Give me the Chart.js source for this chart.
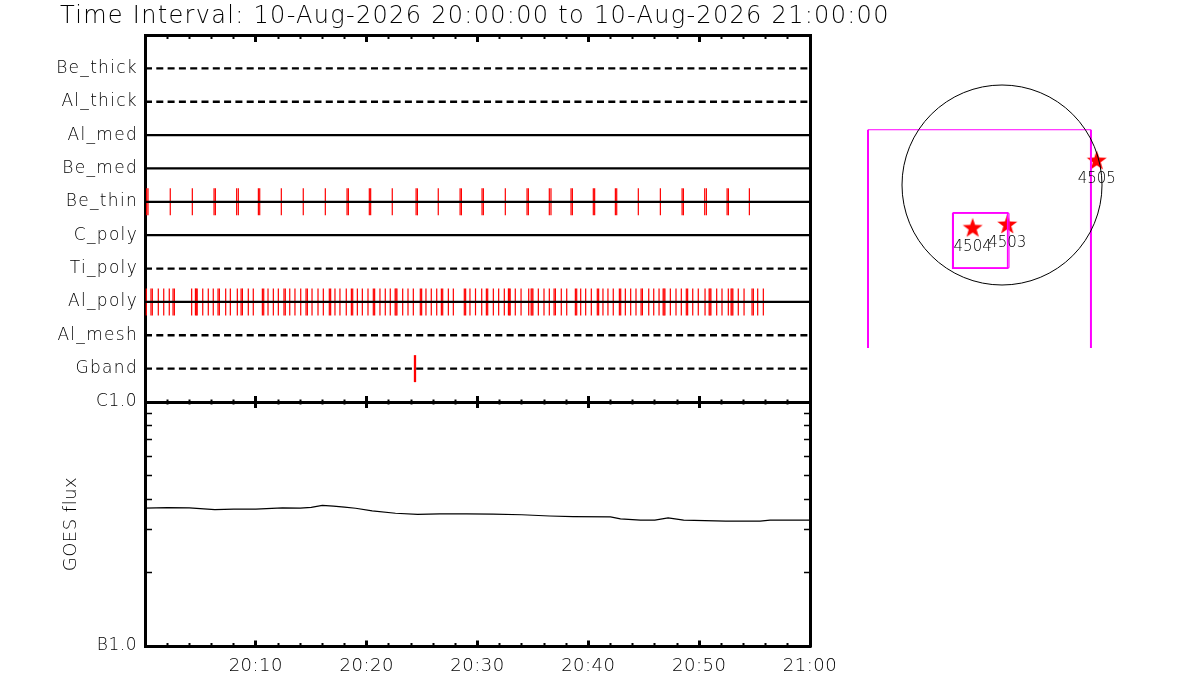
<!DOCTYPE html>
<html>
<head>
<meta charset="utf-8">
<script src="https://cdn.jsdelivr.net/npm/chart.js@4.4.1/dist/chart.umd.min.js"></script>
<style>
  html, body { margin:0; padding:0; background:#ffffff; }
  body { width:1200px; height:700px; position:relative; overflow:hidden; }
  .panel { position:absolute; }
  #panelRows { left:0; top:0; }
  #panelGoes { left:0; top:372px; }
  #panelMap { left:850px; top:40px; }
</style>
</head>
<body>
<div class="panel" id="panelRows"><canvas id="rowsCanvas" width="1000" height="430"></canvas></div>
<div class="panel" id="panelGoes"><canvas id="goesCanvas" width="860" height="328"></canvas></div>
<div class="panel" id="panelMap"><canvas id="mapCanvas" width="300" height="308"></canvas></div>
<script>
// ---------------- data ----------------
const intervalStart = '10-Aug-2026 20:00:00';
const intervalEnd = '10-Aug-2026 21:00:00';

const rowNames = ['Be_thick','Al_thick','Al_med','Be_med','Be_thin','C_poly','Ti_poly','Al_poly','Al_mesh','Gband'];
const rowObserved = [false, false, true, true, true, true, false, true, false, false];

// event times, minutes after 20:00
const beThinTimes = [0.15, 0.27, 2.28, 4.27, 6.23, 6.35, 8.27, 8.42, 10.23, 10.35, 12.30, 14.28, 16.27,
  18.23, 18.35, 20.24, 20.36, 22.31, 24.46, 24.58, 26.46, 28.43, 28.55, 30.41, 30.53, 32.51,
  34.47, 34.59, 36.48, 36.63, 38.44, 38.56, 40.45, 40.57, 42.44, 42.56, 44.51, 46.50,
  48.46, 48.58, 50.50, 50.65, 52.52, 52.64, 54.53];

const alPolyTimes = [0.12, 0.54, 0.66, 1.20, 1.69, 2.19, 2.53, 2.65, 4.21, 4.55, 4.63, 4.71, 5.21, 5.71,
  6.16, 6.59, 6.71, 7.28, 7.70, 8.33, 8.67, 8.79, 9.32, 9.77, 10.59, 10.71, 11.10, 11.58, 12.03,
  12.54, 12.66, 13.06, 13.53, 14.05, 14.53, 14.65, 15.07, 15.61, 16.09, 16.63, 16.75, 17.14, 17.59,
  18.16, 18.62, 18.74, 19.16, 19.61, 20.12, 20.60, 20.72, 21.20, 21.68, 22.13, 22.57, 22.65, 22.73,
  23.25, 23.73, 24.21, 24.84, 24.96, 25.35, 25.83, 26.32, 26.74, 26.86, 27.37, 27.82, 28.81, 28.93,
  29.32, 29.82, 30.38, 30.80, 30.92, 31.43, 31.91, 32.42, 32.79, 32.87, 32.95, 33.41, 33.93, 34.62,
  34.84, 34.92, 35.00, 35.49, 36.00, 36.48, 36.91, 37.03, 37.56, 38.05, 38.83, 38.95, 39.31, 39.76,
  40.27, 40.81, 40.93, 41.32, 41.77, 42.25, 42.80, 42.92, 43.34, 43.82, 44.30, 44.76, 44.88, 45.45,
  45.90, 46.38, 46.75, 46.83, 46.91, 47.40, 47.91, 48.39, 48.84, 48.96, 49.42, 49.92, 50.53, 50.90,
  50.98, 51.06, 51.58, 52.06, 52.63, 52.88, 52.96, 53.04, 53.53, 54.05, 54.77, 54.89, 55.28, 55.79];

const gbandTimes = [24.31, 24.41];

const timeTickLabels = ['', '20:10', '20:20', '20:30', '20:40', '20:50', '21:00'];

const goesMinutes = [0, 2, 4, 6.3, 8, 10, 12.4, 14, 15, 16, 17, 18, 19, 20.5, 22.6, 24.6, 26.6, 29,
  31.4, 34, 36.5, 38.6, 42, 42.9, 44.7, 46, 47.2, 48.6, 52.4, 55.5, 56.4, 60];
const goesFlux = [3.67e-7, 3.69e-7, 3.68e-7, 3.62e-7, 3.64e-7, 3.64e-7, 3.68e-7, 3.67e-7, 3.70e-7,
  3.77e-7, 3.74e-7, 3.71e-7, 3.67e-7, 3.58e-7, 3.50e-7, 3.46e-7, 3.48e-7, 3.48e-7, 3.47e-7,
  3.45e-7, 3.41e-7, 3.39e-7, 3.38e-7, 3.32e-7, 3.28e-7, 3.28e-7, 3.35e-7, 3.28e-7, 3.25e-7,
  3.25e-7, 3.28e-7, 3.28e-7];

const goesTickValues = [1e-7, 2e-7, 3e-7, 4e-7, 5e-7, 6e-7, 7e-7, 8e-7, 9e-7, 1e-6];
const goesClassValues = [1e-7, 1e-6];
const goesClassLabels = ['B1.0', 'C1.0'];

// solar map (arcsec)
const solarRadius = 950;
const arNumbers = ['4503', '4504', '4505'];
const arX = [50, -279, 900];
const arY = [-370, -402, 237];
const fovWideX = [-1273, -1273, 845, 845];
const fovWideY = [-3000, 525, 525, -3000];
const fovBoxX = [-468, -468, 54, 54, -468];
const fovBoxY = [-263, -791, -791, -263, -263];
const fovBox2X = [-462, -462, 67, 67, -462];
const fovBox2Y = [-269, -786, -786, -269, -269];

// ---------------- setup ----------------
const FONT = "'DejaVu Sans', 'Liberation Sans', sans-serif";
const WEIGHT = '200';
Chart.defaults.font.family = FONT;
Chart.defaults.font.weight = WEIGHT;
Chart.defaults.color = '#000';
Chart.defaults.animation = false;
Chart.defaults.plugins.legend.display = false;
Chart.defaults.plugins.tooltip.enabled = false;

const spacingPlugin = {
  id: 'letterSpacing',
  beforeDraw(chart, args, opts) {
    if ('letterSpacing' in chart.ctx) chart.ctx.letterSpacing = opts.value || '0px';
  }
};
// let the row-name labels use the whole left margin (they are right-aligned to the axis)
const wideLabelPlugin = {
  id: 'wideLabels',
  afterLayout(chart) { chart.scales.y.left = 0; }
};

const blackBorder = {display: true, width: 3, color: '#000'};
function timeAxis(position, step, tickLen, tickWidth, withBorder, extra) {
  return Object.assign({
    type: 'linear', position: position, min: 0, max: 60,
    ticks: {display: false, stepSize: step, autoSkip: false, maxTicksLimit: 100},
    grid: {display: true, drawOnChartArea: false, drawTicks: true, tickLength: tickLen, tickWidth: tickWidth, tickColor: '#000'},
    border: withBorder ? blackBorder : {display: false},
    afterFit: s => { s.height = 0; }
  }, extra || {});
}

// ---------------- panel 1: filter rows ----------------
const rowCount = rowNames.length;
const rowValue = name => rowCount - rowNames.indexOf(name);
const eventSeries = [
  {row: 'Be_thin', times: beThinTimes},
  {row: 'Al_poly', times: alPolyTimes},
  {row: 'Gband', times: gbandTimes}
];

const rowLineDatasets = rowNames.map((name, i) => ({
  label: name,
  showLine: true,
  data: [{x: 0, y: rowCount - i}, {x: 60, y: rowCount - i}],
  borderColor: '#000',
  borderWidth: 2.3,
  borderDash: rowObserved[i] ? [] : [7, 4.3],
  pointRadius: 0,
  xAxisID: 'x', yAxisID: 'y',
  order: 0
}));
const eventDatasets = eventSeries.map(ev => ({
  label: ev.row + ' events',
  data: ev.times.map(t => ({x: t, y: rowValue(ev.row)})),
  pointStyle: 'line',
  pointRotation: 90,
  pointRadius: 13.5,
  pointBorderWidth: 1.2,
  pointBorderColor: '#ff0000',
  pointBackgroundColor: '#ff0000',
  xAxisID: 'x', yAxisID: 'y',
  order: 1
}));

new Chart(document.getElementById('rowsCanvas'), {
  type: 'scatter',
  data: {datasets: rowLineDatasets.concat(eventDatasets)},
  options: {
    responsive: false,
    events: [],
    layout: {autoPadding: false, padding: {left: 60, top: 0, right: 0, bottom: 28}},
    plugins: {
      letterSpacing: {value: '1.3px'},
      title: {
        display: true,
        text: 'Time Interval: ' + intervalStart + ' to ' + intervalEnd,
        align: 'start', color: '#000',
        font: {size: 24, weight: WEIGHT},
        padding: {top: 2, bottom: 4.2}
      }
    },
    scales: {
      x: timeAxis('bottom', 2, -2.5, 2, true),
      xMajor: timeAxis('bottom', 10, -6, 3, false),
      xTop: timeAxis('top', 2, -4, 2, true),
      xTopMajor: timeAxis('top', 10, -7, 3, false),
      y: {
        type: 'linear', position: 'left', min: 0, max: rowCount + 1,
        afterBuildTicks: s => { s.ticks = rowNames.map((n, i) => ({value: rowCount - i})); },
        ticks: {autoSkip: false, padding: 7, color: '#000', font: {size: 17, weight: WEIGHT},
          callback: v => rowNames[rowCount - v]},
        grid: {display: false, drawTicks: false},
        border: blackBorder,
        afterFit: s => { s.width = 85; }
      },
      yRight: {
        type: 'linear', position: 'right', min: 0, max: rowCount + 1,
        ticks: {display: false},
        grid: {display: false, drawTicks: false},
        border: blackBorder,
        afterFit: s => { s.width = 190; }
      }
    }
  },
  plugins: [spacingPlugin, wideLabelPlugin]
});

// ---------------- panel 2: GOES flux ----------------
const goesAxisTicks = s => { s.ticks = goesTickValues.map(v => ({value: v})); };
new Chart(document.getElementById('goesCanvas'), {
  type: 'scatter',
  data: {datasets: [{
    label: 'GOES',
    data: goesMinutes.map((m, i) => ({x: m, y: goesFlux[i]})),
    showLine: true, borderColor: '#000', borderWidth: 1.2, pointRadius: 0,
    xAxisID: 'x', yAxisID: 'y'
  }]},
  options: {
    responsive: false,
    events: [],
    layout: {autoPadding: false, padding: {left: 0, top: 30, right: 50, bottom: 0}},
    plugins: {letterSpacing: {value: '0.5px'}},
    scales: {
      x: timeAxis('bottom', 2, -3, 2, true),
      xMajor: timeAxis('bottom', 10, -5.5, 3, false, {
        ticks: {display: true, stepSize: 10, autoSkip: false, maxTicksLimit: 100, maxRotation: 0, minRotation: 0,
          padding: 15, color: '#000', font: {size: 18, weight: WEIGHT},
          callback: v => timeTickLabels[Math.round(v / 10)]},
        afterFit: s => { s.height = 54; }
      }),
      xTop: timeAxis('top', 2, -2.5, 2, true),
      xTopMajor: timeAxis('top', 10, -6, 3, false),
      y: {
        type: 'logarithmic', position: 'left', min: goesClassValues[0], max: goesClassValues[1],
        afterBuildTicks: goesAxisTicks,
        ticks: {autoSkip: false, padding: 15, color: '#000', font: {size: 17, weight: WEIGHT},
          callback: v => {
            const k = goesClassValues.findIndex(c => Math.abs(c - v) / c < 1e-6);
            return k >= 0 ? goesClassLabels[k] : '';
          }},
        grid: {drawOnChartArea: false, drawTicks: true, tickLength: -7, tickWidth: 1.5, tickColor: '#000'},
        border: blackBorder,
        title: {display: true, text: 'GOES flux', color: '#000', font: {size: 18, weight: WEIGHT}, padding: {top: 61, bottom: 0}},
        afterFit: s => { s.width = 145; }
      },
      yRight: {
        type: 'logarithmic', position: 'right', min: goesClassValues[0], max: goesClassValues[1],
        afterBuildTicks: goesAxisTicks,
        ticks: {display: false},
        grid: {drawOnChartArea: false, drawTicks: true, tickLength: -6, tickWidth: 1.5, tickColor: '#000'},
        border: blackBorder,
        afterFit: s => { s.width = 0; }
      }
    }
  },
  plugins: [spacingPlugin]
});

// ---------------- panel 3: solar map ----------------
function makeStar(size, color) {
  const c = document.createElement('canvas');
  c.width = size; c.height = size;
  const g = c.getContext('2d');
  const R = size / 2 - 0.5, r = R * 0.4;
  const cx = size / 2, cy = size / 2 + 0.0955 * R;
  g.fillStyle = color;
  g.beginPath();
  for (let i = 0; i < 10; i++) {
    const a = -Math.PI / 2 + i * Math.PI / 5;
    const rr = (i % 2) ? r : R;
    g.lineTo(cx + rr * Math.cos(a), cy + rr * Math.sin(a));
  }
  g.closePath();
  g.fill();
  return c;
}
const starImage = makeStar(22, '#ff0000');

const arLabelPlugin = {
  id: 'arLabels',
  afterDatasetsDraw(chart) {
    const idx = chart.data.datasets.findIndex(d => d.label === 'AR');
    const meta = chart.getDatasetMeta(idx);
    const ctx = chart.ctx;
    ctx.save();
    ctx.font = WEIGHT + ' 15px ' + FONT;
    ctx.fillStyle = '#000';
    ctx.textAlign = 'center';
    ctx.textBaseline = 'middle';
    meta.data.forEach((pt, i) => ctx.fillText(arNumbers[i], pt.x, pt.y + 19.5));
    ctx.restore();
  }
};

const toPts = (xs, ys) => xs.map((x, i) => ({x: x, y: ys[i]}));
new Chart(document.getElementById('mapCanvas'), {
  type: 'scatter',
  data: {datasets: [
    {label: 'limb', data: [{x: 0, y: 0}], pointStyle: 'circle',
      pointRadius: ctx => {
        const s = ctx.chart.scales.x;
        return Math.abs(s.getPixelForValue(solarRadius) - s.getPixelForValue(0));
      },
      pointBorderColor: '#000', pointBorderWidth: 1, pointBackgroundColor: 'rgba(0,0,0,0)'},
    {label: 'fovWide', data: toPts(fovWideX, fovWideY), showLine: true, borderColor: '#ff00ff',
      borderWidth: 2, pointRadius: 0,
      segment: {borderWidth: ctx => ctx.p0DataIndex === 1 ? 1 : 2}},
    {label: 'fovBox', data: toPts(fovBoxX, fovBoxY), showLine: true, borderColor: '#ff00ff',
      borderWidth: 1.6, pointRadius: 0},
    {label: 'fovBox2', data: toPts(fovBox2X, fovBox2Y), showLine: true, borderColor: '#ff00ff',
      borderWidth: 1, pointRadius: 0},
    {label: 'AR', data: toPts(arX, arY), pointStyle: starImage, pointRadius: 10}
  ]},
  options: {
    responsive: false,
    events: [],
    layout: {autoPadding: false, padding: 0},
    scales: {
      x: {type: 'linear', display: false, min: -1444, max: 1406},
      y: {type: 'linear', display: false, min: -1548.5, max: 1377.5}
    }
  },
  plugins: [arLabelPlugin]
});
</script>
</body>
</html>
